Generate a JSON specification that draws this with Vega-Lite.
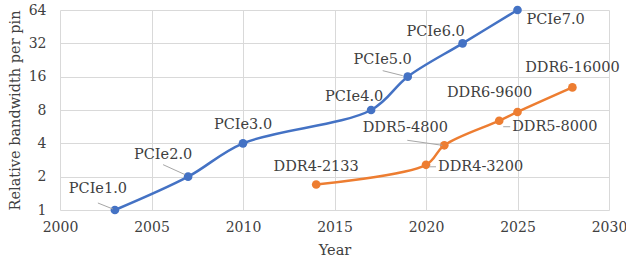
{
  "$schema": "https://vega.github.io/schema/vega-lite/v6.json",
  "width": 549,
  "height": 200,
  "autosize": {"type": "none"},
  "padding": {"left": 60, "top": 10, "right": 17, "bottom": 50},
  "background": "white",
  "config": {
    "view": {"stroke": null},
    "font": "DejaVu Serif",
    "axis": {
      "labelFont": "DejaVu Serif",
      "titleFont": "DejaVu Serif",
      "labelFontSize": 14,
      "titleFontSize": 14.5,
      "labelColor": "#404040",
      "titleColor": "#404040",
      "titleFontWeight": "normal",
      "gridColor": "#d9d9d9",
      "gridWidth": 1,
      "domain": false,
      "ticks": false,
      "labelFlush": false
    },
    "text": {"font": "DejaVu Serif", "fontSize": 14.5, "color": "#404040", "baseline": "middle"}
  },
  "data": {
    "values": [
      {"series": "PCIe", "year": 2003, "value": 1, "name": "PCIe1.0"},
      {"series": "PCIe", "year": 2007, "value": 2, "name": "PCIe2.0"},
      {"series": "PCIe", "year": 2010, "value": 4, "name": "PCIe3.0"},
      {"series": "PCIe", "year": 2017, "value": 8, "name": "PCIe4.0"},
      {"series": "PCIe", "year": 2019, "value": 16, "name": "PCIe5.0"},
      {"series": "PCIe", "year": 2022, "value": 32, "name": "PCIe6.0"},
      {"series": "PCIe", "year": 2025, "value": 64, "name": "PCIe7.0"},
      {"series": "DDR", "year": 2014, "value": 1.7, "name": "DDR4-2133"},
      {"series": "DDR", "year": 2020, "value": 2.56, "name": "DDR4-3200"},
      {"series": "DDR", "year": 2021, "value": 3.84, "name": "DDR5-4800"},
      {"series": "DDR", "year": 2024, "value": 6.4, "name": "DDR5-8000"},
      {"series": "DDR", "year": 2025, "value": 7.68, "name": "DDR6-9600"},
      {"series": "DDR", "year": 2028, "value": 12.8, "name": "DDR6-16000"}
    ]
  },
  "encoding": {
    "x": {
      "field": "year",
      "type": "quantitative",
      "scale": {"domain": [2000, 2030], "nice": false, "zero": false},
      "axis": {"values": [2000, 2005, 2010, 2015, 2020, 2025, 2030], "format": "d", "title": "Year", "labelPadding": 10, "titlePadding": 9}
    },
    "y": {
      "field": "value",
      "type": "quantitative",
      "scale": {"type": "log", "base": 2, "domain": [1, 64], "nice": false},
      "axis": {"values": [1, 2, 4, 8, 16, 32, 64], "format": "d", "title": "Relative bandwidth per pin", "labelPadding": 14, "titlePadding": 6}
    }
  },
  "layer": [
    {
      "mark": {"type": "line", "interpolate": "catmull-rom", "strokeWidth": 2.5},
      "encoding": {
        "color": {"field": "series", "type": "nominal", "scale": {"domain": ["PCIe", "DDR"], "range": ["#4472C4", "#ED7D31"]}, "legend": null}
      }
    },
    {
      "mark": {"type": "point", "filled": true, "size": 75, "opacity": 1},
      "encoding": {
        "color": {"field": "series", "type": "nominal", "scale": {"domain": ["PCIe", "DDR"], "range": ["#4472C4", "#ED7D31"]}, "legend": null}
      }
    },
    {"transform": [{"filter": {"field": "name", "equal": "PCIe1.0"}}], "mark": {"type": "rule", "color": "#a6a6a6", "strokeWidth": 1, "xOffset": -2, "yOffset": -1, "x2Offset": -17, "y2Offset": -7}, "encoding": {"x2": {"field": "year"}, "y2": {"field": "value"}}},
    {"transform": [{"filter": {"field": "name", "equal": "PCIe2.0"}}], "mark": {"type": "rule", "color": "#a6a6a6", "strokeWidth": 1, "xOffset": -3, "yOffset": -2, "x2Offset": -25, "y2Offset": -12}, "encoding": {"x2": {"field": "year"}, "y2": {"field": "value"}}},
    {"transform": [{"filter": {"field": "name", "equal": "PCIe5.0"}}], "mark": {"type": "rule", "color": "#a6a6a6", "strokeWidth": 1, "xOffset": -5, "yOffset": -1, "x2Offset": -25, "y2Offset": -6}, "encoding": {"x2": {"field": "year"}, "y2": {"field": "value"}}},
    {"transform": [{"filter": {"field": "name", "equal": "DDR5-4800"}}], "mark": {"type": "rule", "color": "#a6a6a6", "strokeWidth": 1, "xOffset": -2, "yOffset": 0, "x2Offset": -37, "y2Offset": -5}, "encoding": {"x2": {"field": "year"}, "y2": {"field": "value"}}},
    {"transform": [{"filter": {"field": "name", "equal": "DDR4-3200"}}], "mark": {"type": "rule", "color": "#a6a6a6", "strokeWidth": 1, "xOffset": 3, "yOffset": 2, "x2Offset": 10, "y2Offset": 2}, "encoding": {"x2": {"field": "year"}, "y2": {"field": "value"}}},
    {"transform": [{"filter": {"field": "name", "equal": "DDR5-8000"}}], "mark": {"type": "rule", "color": "#a6a6a6", "strokeWidth": 1, "xOffset": 4, "yOffset": 6, "x2Offset": 11, "y2Offset": 6}, "encoding": {"x2": {"field": "year"}, "y2": {"field": "value"}}},
    {"transform": [{"filter": {"field": "name", "equal": "PCIe1.0"}}], "mark": {"type": "text", "align": "center", "dx": -17, "dy": -21}, "encoding": {"text": {"field": "name"}}},
    {"transform": [{"filter": {"field": "name", "equal": "PCIe2.0"}}], "mark": {"type": "text", "align": "center", "dx": -25, "dy": -22}, "encoding": {"text": {"field": "name"}}},
    {"transform": [{"filter": {"field": "name", "equal": "PCIe3.0"}}], "mark": {"type": "text", "align": "center", "dx": 0, "dy": -18}, "encoding": {"text": {"field": "name"}}},
    {"transform": [{"filter": {"field": "name", "equal": "PCIe4.0"}}], "mark": {"type": "text", "align": "center", "dx": -17, "dy": -13}, "encoding": {"text": {"field": "name"}}},
    {"transform": [{"filter": {"field": "name", "equal": "PCIe5.0"}}], "mark": {"type": "text", "align": "center", "dx": -25, "dy": -17}, "encoding": {"text": {"field": "name"}}},
    {"transform": [{"filter": {"field": "name", "equal": "PCIe6.0"}}], "mark": {"type": "text", "align": "center", "dx": -27, "dy": -11}, "encoding": {"text": {"field": "name"}}},
    {"transform": [{"filter": {"field": "name", "equal": "PCIe7.0"}}], "mark": {"type": "text", "align": "left", "dx": 9, "dy": 10}, "encoding": {"text": {"field": "name"}}},
    {"transform": [{"filter": {"field": "name", "equal": "DDR4-2133"}}], "mark": {"type": "text", "align": "center", "dx": 0, "dy": -17}, "encoding": {"text": {"field": "name"}}},
    {"transform": [{"filter": {"field": "name", "equal": "DDR4-3200"}}], "mark": {"type": "text", "align": "left", "dx": 12, "dy": 2}, "encoding": {"text": {"field": "name"}}},
    {"transform": [{"filter": {"field": "name", "equal": "DDR5-4800"}}], "mark": {"type": "text", "align": "center", "dx": -39, "dy": -17}, "encoding": {"text": {"field": "name"}}},
    {"transform": [{"filter": {"field": "name", "equal": "DDR5-8000"}}], "mark": {"type": "text", "align": "left", "dx": 13, "dy": 6}, "encoding": {"text": {"field": "name"}}},
    {"transform": [{"filter": {"field": "name", "equal": "DDR6-9600"}}], "mark": {"type": "text", "align": "center", "dx": -28, "dy": -19}, "encoding": {"text": {"field": "name"}}},
    {"transform": [{"filter": {"field": "name", "equal": "DDR6-16000"}}], "mark": {"type": "text", "align": "center", "dx": 0, "dy": -19}, "encoding": {"text": {"field": "name"}}}
  ]
}
